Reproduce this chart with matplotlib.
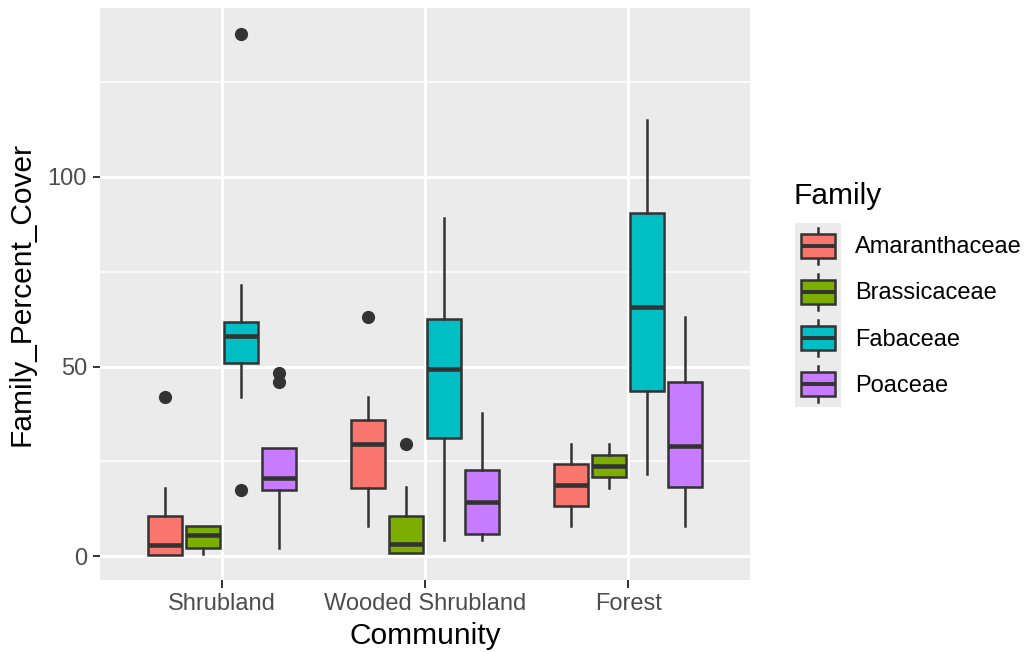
import matplotlib.pyplot as plt
from matplotlib.patches import Rectangle

plt.rcParams['font.family'] = ['Liberation Sans', 'DejaVu Sans']

communities = ["Shrubland", "Wooded Shrubland", "Forest"]
families = ["Amaranthaceae", "Brassicaceae", "Fabaceae", "Poaceae"]
colors = ["#F8766D", "#7CAE00", "#00BFC4", "#C77CFF"]

# per family, values for Shrubland, Wooded Shrubland, Forest
whislo = {
    "Amaranthaceae": [0.4, 8.1, 8.1],
    "Brassicaceae": [0.7, 0.8, 18.1],
    "Fabaceae": [42.0, 4.2, 21.6],
    "Poaceae": [2.2, 4.2, 8.1],
}
q1 = {
    "Amaranthaceae": [0.4, 18.1, 13.3],
    "Brassicaceae": [2.3, 0.8, 20.8],
    "Fabaceae": [51.0, 31.3, 43.6],
    "Poaceae": [17.5, 5.8, 18.4],
}
med = {
    "Amaranthaceae": [3.0, 29.5, 18.7],
    "Brassicaceae": [5.6, 3.2, 23.8],
    "Fabaceae": [58.1, 49.4, 65.6],
    "Poaceae": [20.6, 14.3, 29.1],
}
q3 = {
    "Amaranthaceae": [10.7, 35.9, 24.3],
    "Brassicaceae": [8.1, 10.7, 26.7],
    "Fabaceae": [61.8, 62.4, 90.3],
    "Poaceae": [28.6, 22.8, 46.0],
}
whishi = {
    "Amaranthaceae": [18.0, 41.9, 29.5],
    "Brassicaceae": [8.1, 18.4, 29.5],
    "Fabaceae": [71.4, 89.0, 114.9],
    "Poaceae": [28.6, 37.9, 63.0],
}
outliers = {
    "Amaranthaceae": [[42.0], [63.1], []],
    "Brassicaceae": [[], [29.5], []],
    "Fabaceae": [[137.5, 17.5], [], []],
    "Poaceae": [[48.2, 46.0], [], []],
}

dark = "#333333"
fig = plt.figure(figsize=(10.27, 6.52), dpi=100)
ax = fig.add_axes([100 / 1027, 72 / 652, 650 / 1027, 572 / 652])
ax.set_facecolor("#EBEBEB")

dodge = 0.75 / len(families)
bw = dodge * 0.9
for j, fam in enumerate(families):
    stats = []
    pos = []
    for i in range(len(communities)):
        stats.append(dict(whislo=whislo[fam][i], q1=q1[fam][i], med=med[fam][i],
                          q3=q3[fam][i], whishi=whishi[fam][i], fliers=outliers[fam][i]))
        pos.append(i + (j - 1.5) * dodge)
    ax.bxp(stats, positions=pos, widths=bw, patch_artist=True, showcaps=False,
           boxprops=dict(facecolor=colors[j], edgecolor=dark, linewidth=1.8),
           medianprops=dict(color=dark, linewidth=3.3, solid_capstyle="butt"),
           whiskerprops=dict(color=dark, linewidth=1.8),
           flierprops=dict(marker="o", markerfacecolor=dark, markeredgecolor=dark,
                           markersize=8.5, linestyle="none"),
           zorder=3)

ax.set_xlim(-0.6, 2.6)
ax.set_ylim(-6.2, 144.4)
ax.set_yticks([0, 50, 100])
ax.set_yticks([25, 75, 125], minor=True)
ax.set_xticks(range(len(communities)))
ax.set_xticklabels(communities)
ax.grid(True, which="major", color="white", linewidth=2.2, zorder=0)
ax.grid(True, which="minor", axis="y", color="white", linewidth=1.1, zorder=0)
ax.set_axisbelow(True)
for s in ax.spines.values():
    s.set_visible(False)
ax.tick_params(which="major", length=5.4, width=1.4, color=dark, labelsize=17,
               labelcolor="#4D4D4D", pad=4)
ax.tick_params(which="minor", length=0)
ax.set_xlabel("Community", fontsize=21.5, labelpad=5)
ax.set_ylabel("Family_Percent_Cover", fontsize=21.5, labelpad=9)

# legend
fig.text(793 / 1027, 1 - 196 / 652, "Family", fontsize=21.5, va="center", ha="left")
lax = fig.add_axes([795 / 1027, 1 - 407 / 652, 46 / 1027, 184 / 652])
lax.set_xlim(0, 1)
lax.set_ylim(len(families), 0)
lax.axis("off")
lax.add_patch(Rectangle((0, 0), 1, len(families), facecolor="#EBEBEB", edgecolor="none"))
for j, fam in enumerate(families):
    yc = j + 0.5
    lax.plot([0.5, 0.5], [j + 0.1, j + 0.9], color=dark, linewidth=1.8, zorder=2)
    lax.add_patch(Rectangle((0.12, yc - 0.26), 0.76, 0.52, facecolor=colors[j],
                            edgecolor=dark, linewidth=1.8, zorder=3))
    lax.plot([0.12, 0.88], [yc, yc], color=dark, linewidth=2.8, zorder=4,
             solid_capstyle="butt")
    fig.text(855 / 1027, 1 - (224 + 46.2 * (j + 0.5)) / 652, fam, fontsize=17,
             va="center", ha="left")

fig.savefig("out.png", dpi=100)
